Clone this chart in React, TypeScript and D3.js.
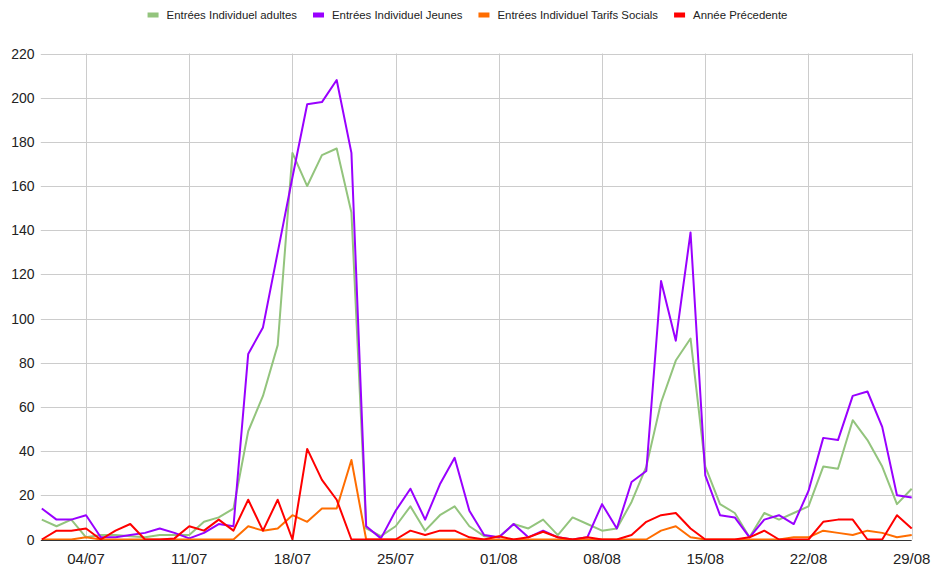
import React, { useRef, useEffect } from 'react';
import * as d3 from 'd3';

// daily categories, 01/07 -> 29/08
const days = [
  '01/07', '02/07', '03/07', '04/07', '05/07', '06/07', '07/07', '08/07', '09/07', '10/07',
  '11/07', '12/07', '13/07', '14/07', '15/07', '16/07', '17/07', '18/07', '19/07', '20/07',
  '21/07', '22/07', '23/07', '24/07', '25/07', '26/07', '27/07', '28/07', '29/07', '30/07',
  '31/07', '01/08', '02/08', '03/08', '04/08', '05/08', '06/08', '07/08', '08/08', '09/08',
  '10/08', '11/08', '12/08', '13/08', '14/08', '15/08', '16/08', '17/08', '18/08', '19/08',
  '20/08', '21/08', '22/08', '23/08', '24/08', '25/08', '26/08', '27/08', '28/08', '29/08',
];

const tickLabels = ['04/07', '11/07', '18/07', '25/07', '01/08', '08/08', '15/08', '22/08', '29/08'];
const yTicks = [0, 20, 40, 60, 80, 100, 120, 140, 160, 180, 200, 220];

const adultes = [
  9, 6, 9, 1, 2, 2, 1.5, 1, 2, 2, 2, 8, 10, 14,
  49, 65, 88, 175, 160, 174, 177, 148,
  5, 1.5, 6, 15, 4, 11, 15, 6,
  1.5, 1, 7, 5, 9, 2, 10, 7, 4, 5,
  17, 33, 62, 81, 91, 33, 16, 12, 1, 12,
  9, 12, 15, 33, 32, 54, 45, 33, 16, 23,
];

const jeunes = [
  14, 9, 9, 11, 1, 1, 2, 3, 5, 3, 0.5, 3, 7, 6,
  84, 96, 130, 164, 197, 198, 208, 175,
  6, 0.5, 13, 23, 9, 25, 37, 13,
  2, 1, 7, 1, 4, 1, 0, 1, 16, 5,
  26, 31, 117, 90, 139, 29, 11, 10, 1, 9,
  11, 7, 22, 46, 45, 65, 67, 51, 20, 19,
];

const tarifsSocials = [
  0, 0, 0, 1, 0, 0, 0, 0, 0, 0, 0, 0, 0, 0,
  6, 4, 5, 11, 8, 14, 14, 36,
  0, 0, 0, 0, 0, 0, 0, 0,
  0, 0, 0, 0, 0, 0, 0, 0, 0, 0,
  0, 0, 4, 6, 1, 0, 0, 0, 0, 0,
  0, 1, 1, 4, 3, 2, 4, 3, 1, 2,
];

const anneePrecedente = [
  0, 4, 4, 5, 0, 4, 7, 0, 0, 0.5, 6, 4, 9, 4,
  18, 4, 18, 0, 41, 27, 18, 0,
  0, 0, 0, 4, 2, 4, 4, 1,
  0, 1.5, 0, 1, 3.5, 1, 0, 1, 0, 0,
  2, 8, 11, 12, 5, 0, 0, 0, 1, 4,
  0, 0, 0, 8, 9, 9, 0, 0, 11, 5,
];

const seriesNames = [
  'Entrées Individuel adultes',
  'Entrées Individuel Jeunes',
  'Entrées Individuel Tarifs Socials',
  'Année Précedente',
];
const seriesColors = ['#93c47d', '#9900ff', '#ff6d01', '#ff0000'];
const seriesValues = [adultes, jeunes, tarifsSocials, anneePrecedente];

const WIDTH = 935;
const HEIGHT = 568;
const FONT = 'Arial, "Liberation Sans", sans-serif';

function LineChart() {
  const svgRef = useRef<SVGSVGElement>(null);

  useEffect(() => {
    const svg = d3.select(svgRef.current);
    svg.selectAll('*').remove();

    const margin = { top: 53.5, right: 23.3, bottom: 28.5, left: 41.8 };
    const parse = d3.utcParse('%d/%m/%Y');
    const toDate = (s: string) => parse(`${s}/2024`) as Date;
    const dates = days.map(toDate);

    const x = d3.scaleUtc()
      .domain(d3.extent(dates) as [Date, Date])
      .range([margin.left, WIDTH - margin.right]);

    const y = d3.scaleLinear()
      .domain([0, 220])
      .range([HEIGHT - margin.bottom, margin.top]);

    // horizontal gridlines
    svg.append('g')
      .selectAll('line')
      .data(yTicks.filter(t => t > 0))
      .enter().append('line')
      .attr('x1', margin.left - 1)
      .attr('x2', WIDTH - margin.right)
      .attr('y1', d => Math.round(y(d)) + 0.5)
      .attr('y2', d => Math.round(y(d)) + 0.5)
      .attr('stroke', '#cccccc')
      .attr('stroke-width', 1);

    // vertical gridlines at weekly ticks
    svg.append('g')
      .selectAll('line')
      .data(tickLabels.map(toDate))
      .enter().append('line')
      .attr('x1', d => Math.round(x(d)) + 0.5)
      .attr('x2', d => Math.round(x(d)) + 0.5)
      .attr('y1', y(220))
      .attr('y2', y(0))
      .attr('stroke', '#cccccc')
      .attr('stroke-width', 1);

    // y labels
    svg.append('g')
      .selectAll('text')
      .data(yTicks)
      .enter().append('text')
      .attr('x', 34.5)
      .attr('y', d => y(d))
      .attr('dy', '0.36em')
      .attr('text-anchor', 'end')
      .style('font-family', FONT)
      .style('font-size', '14px')
      .attr('fill', '#222222')
      .text(d => d);

    // x labels
    svg.append('g')
      .selectAll('text')
      .data(tickLabels)
      .enter().append('text')
      .attr('x', d => x(toDate(d)))
      .attr('y', 564)
      .attr('text-anchor', 'middle')
      .style('font-family', FONT)
      .style('font-size', '15px')
      .attr('fill', '#222222')
      .text(d => d);

    // lines
    const line = d3.line<number>()
      .x((_, i) => x(dates[i]))
      .y(d => y(d));

    seriesValues.forEach((vals, i) => {
      svg.append('path')
        .datum(vals)
        .attr('fill', 'none')
        .attr('stroke', seriesColors[i])
        .attr('stroke-width', 2)
        .attr('stroke-linejoin', 'round')
        .attr('d', line);
    });

    // baseline
    svg.append('line')
      .attr('x1', margin.left - 1)
      .attr('x2', WIDTH - margin.right)
      .attr('y1', Math.round(y(0)) + 0.5)
      .attr('y2', Math.round(y(0)) + 0.5)
      .attr('stroke', '#333333')
      .attr('stroke-width', 1);

    // legend, centred at the top
    const legend = svg.append('g');
    const items = seriesNames.map((name, i) => {
      const g = legend.append('g');
      g.append('rect')
        .attr('width', 11)
        .attr('height', 5)
        .attr('y', 12.5)
        .attr('fill', seriesColors[i]);
      const t = g.append('text')
        .attr('x', 19)
        .attr('y', 15)
        .attr('dy', '0.36em')
        .style('font-family', FONT)
        .style('font-size', '11.4px')
        .attr('fill', '#222222')
        .text(name);
      const w = 19 + (t.node() as SVGTextElement).getComputedTextLength();
      return { g, w };
    });
    const gap = 16;
    const total = d3.sum(items, d => d.w) + gap * (items.length - 1);
    let cx = 143;
    cx = Math.max(cx, (WIDTH - total) / 2 - 0);
    items.forEach(it => {
      it.g.attr('transform', `translate(${cx},0)`);
      cx += it.w + gap;
    });
  }, []);

  return (
    <svg ref={svgRef} width={WIDTH} height={HEIGHT} style={{ display: 'block', background: '#ffffff' }} />
  );
}

export default function App() {
  return (
    <div style={{ position: 'absolute', left: 0, top: 0, width: WIDTH, height: HEIGHT, background: '#ffffff' }}>
      <LineChart />
    </div>
  );
}
